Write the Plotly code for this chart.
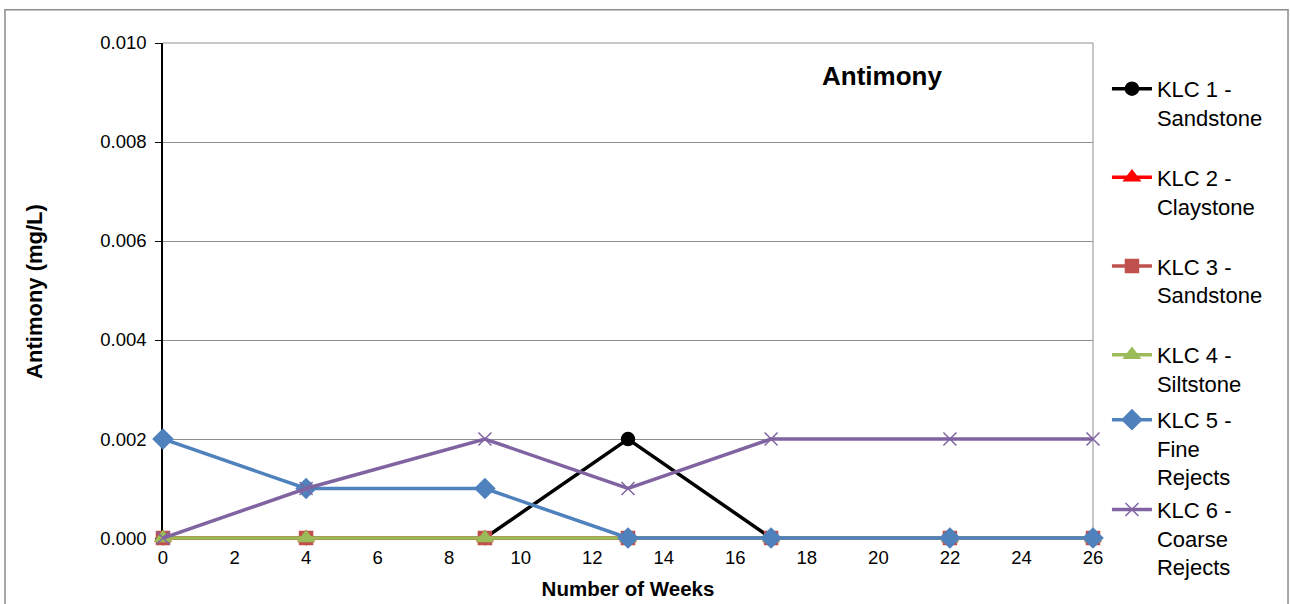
import plotly.graph_objects as go

# data
weeks = [0, 4, 9, 13, 17, 22, 26]
klc1_sandstone = [0, 0, 0, 0.002, 0, 0, 0]
klc2_claystone = [0, 0, 0, 0, 0, 0, 0]
klc3_sandstone = [0, 0, 0, 0, 0, 0, 0]
klc4_siltstone = [0, 0, 0, 0, 0, 0, 0]
klc5_fine = [0.002, 0.001, 0.001, 0, 0, 0, 0]
klc6_coarse = [0, 0.001, 0.002, 0.001, 0.002, 0.002, 0.002]

# name, values, colour, marker, size, which legend box
series = [
    ("KLC 1 -<br>Sandstone", klc1_sandstone, "#000000", "circle", 13, "legend"),
    ("KLC 2 -<br>Claystone", klc2_claystone, "#FF0000", "triangle-up", 14, "legend"),
    ("KLC 3 -<br>Sandstone", klc3_sandstone, "#C0504D", "square", 13, "legend"),
    ("KLC 4 -<br>Siltstone", klc4_siltstone, "#9BBB59", "triangle-up", 14, "legend"),
    ("KLC 5 -<br>Fine<br>Rejects", klc5_fine, "#4F81BD", "diamond", 15, "legend2"),
    ("KLC 6 -<br>Coarse<br>Rejects", klc6_coarse, "#8064A2", "x-thin", 13, "legend2"),
]

fig = go.Figure()
for i, (name, vals, color, symbol, size, leg) in enumerate(series):
    fig.add_trace(go.Scatter(
        x=weeks, y=vals, name=name, mode="lines+markers",
        legend=leg, legendgroup=f"klc{i + 1}", cliponaxis=False,
        line=dict(color=color, width=3.5),
        marker=dict(symbol=symbol, size=size, color=color,
                    line=dict(color=color, width=1.5)),
    ))

font_family = "Liberation Sans, Arial, sans-serif"
axis_font = dict(family=font_family, size=18.5, color="#000000")
legend_common = dict(xanchor="left", yanchor="top", font=dict(size=22),
                     valign="top", itemwidth=40, bgcolor="rgba(0,0,0,0)")

# a sliver below zero so the lines lying on 0 are not half clipped
y_range = [-0.00004, 0.010]

fig.update_layout(
    width=1290, height=604,
    margin=dict(l=163, r=197, t=43, b=64),
    paper_bgcolor="white", plot_bgcolor="white",
    font=dict(family=font_family, color="#000000"),
    showlegend=True,
    legend=dict(x=1.015, y=0.950, tracegroupgap=28.5, **legend_common),
    legend2=dict(x=1.015, y=0.284, tracegroupgap=1, **legend_common),
    xaxis=dict(range=[0, 26], tickvals=list(range(0, 27, 2)),
               showgrid=False, zeroline=False, automargin=False, layer="below traces",
               showline=False, ticks="", tickfont=axis_font, ticklabelstandoff=4,
               title=dict(text="<b>Number of Weeks</b>", font=dict(size=20.5), standoff=15)),
    yaxis=dict(range=y_range, tickvals=[0, 0.002, 0.004, 0.006, 0.008, 0.010],
               tickformat=".3f", showgrid=True, gridcolor="#8E8E8E", gridwidth=1,
               zeroline=True, zerolinecolor="#000000", zerolinewidth=1.5,
               showline=True, linecolor="#000000", linewidth=1.5,
               automargin=False, layer="below traces",
               ticks="outside", ticklen=6, tickcolor="#000000", tickfont=axis_font,
               ticklabelstandoff=5,
               title=dict(text="<b>Antimony (mg/L)</b>", font=dict(size=22), standoff=52)),
    annotations=[dict(text="<b>Antimony</b>", x=0.773, y=0.933, xref="paper", yref="paper",
                      xanchor="center", yanchor="middle",
                      showarrow=False, font=dict(size=26))],
    shapes=[
        # top and right edges of the plot area
        dict(type="line", xref="paper", yref="paper", x0=0, x1=1, y0=1, y1=1,
             layer="below", line=dict(color="#8E8E8E", width=1)),
        dict(type="line", xref="paper", yref="paper", x0=1, x1=1, y0=0, y1=1,
             layer="below", line=dict(color="#8E8E8E", width=1)),
        # chart outer border
        dict(type="rect", xref="paper", yref="paper", x0=-0.1699, x1=1.2097,
             y0=-0.3, y1=1.0667, line=dict(color="#8C8C8C", width=1.5)),
    ],
)

fig.write_html("out.html", config={"displayModeBar": False},
               post_script="document.body.style.margin='0';")
